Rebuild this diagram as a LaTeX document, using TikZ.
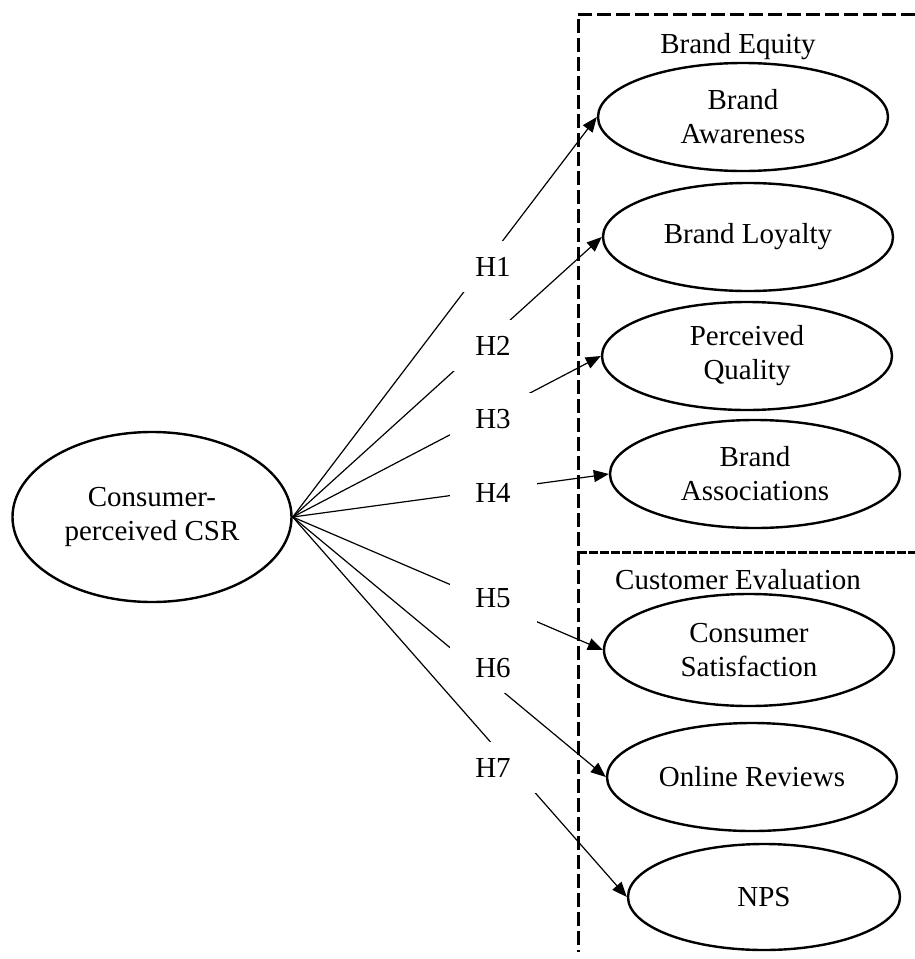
\documentclass[tikz,border=0pt]{standalone}
\usepackage{fontspec}
\setmainfont{Liberation Serif}
\usetikzlibrary{arrows.meta,shapes.geometric}

\begin{document}
\begin{tikzpicture}[
  x=0.5pt, y=-0.5pt,
  >={Triangle[length=7.5pt,width=6pt]},
  every node/.style={font=\fontsize{14.5}{17}\selectfont},
  construct/.style={draw, ellipse, line width=1.2pt, align=center, inner sep=0pt, minimum width=145pt, minimum height=54pt},
  hyp/.style={fill=white, inner sep=0pt, anchor=base, minimum width=43.5pt, minimum height=25.5pt},
  link/.style={->, line width=0.6pt},
  frame/.style={line width=1.5pt, dash pattern=on 7pt off 2.5pt}
]
\useasboundingbox (0,0) rectangle (915,959);

\node[construct, minimum width=139.5pt, minimum height=85pt] (csr) at (152,517) {Consumer-\\perceived CSR};
\node[construct] (aware) at (743,117) {Brand\\Awareness};
\node[construct] (loyal) at (748,237) {Brand Loyalty};
\node[construct] (qual) at (747,356) {Perceived\\Quality};
\node[construct] (assoc) at (755,474) {Brand\\Associations};
\node[construct, minimum height=56pt] (satis) at (749,650) {Consumer\\Satisfaction};
\node[construct] (review) at (752,777) {Online Reviews};
\node[construct, minimum width=136pt, minimum height=53pt] (nps) at (764,897) {NPS};

% dashed groups
\draw[frame] (915,14) -- (578,14) -- (578,952);
\draw[frame, dash pattern=on 4.5pt off 1pt] (578,552) -- (915,552);
\node[anchor=base] (equity) at (738,53) {Brand Equity};
\node[anchor=base] (evaluation) at (738,589) {Customer Evaluation};

\draw[link] (csr.east) -- (aware.west);
\draw[link] (csr.east) -- (loyal.west);
\draw[link] (csr.east) -- (qual.west);
\draw[link] (csr.east) -- (assoc.west);
\draw[link] (csr.east) -- (satis.west);
\draw[link] (csr.east) -- (review.west);
\draw[link] (csr.east) -- (nps.west);

% hypothesis labels
\node[hyp] (h1) at (493,276) {H1};
\node[hyp] (h2) at (493,355) {H2};
\node[hyp] (h3) at (493,428) {H3};
\node[hyp] (h4) at (493,502) {H4};
\node[hyp] (h5) at (493,607) {H5};
\node[hyp] (h6) at (493,677) {H6};
\node[hyp] (h7) at (493,777) {H7};
\end{tikzpicture}
\end{document}
